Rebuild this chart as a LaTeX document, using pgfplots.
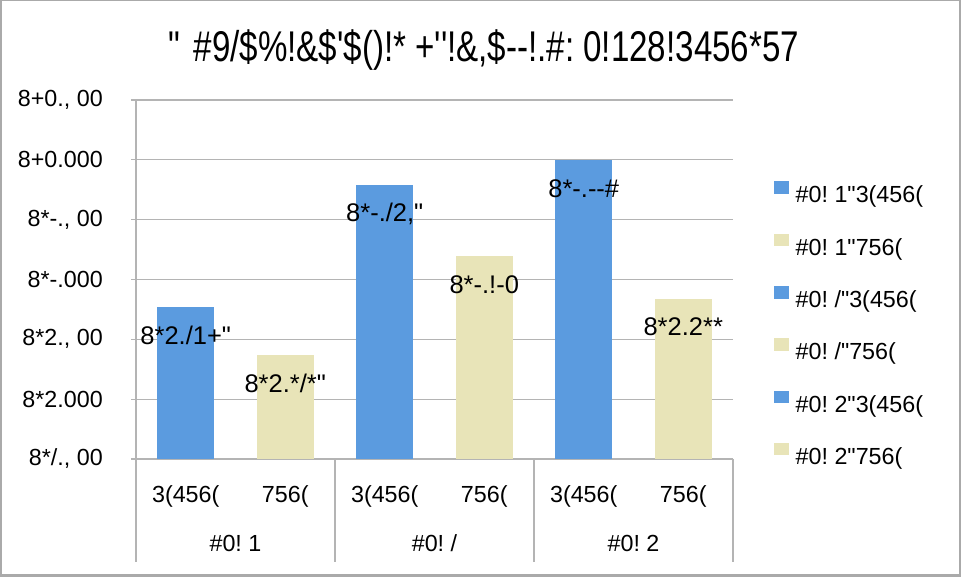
\documentclass[border=0pt]{standalone}
\usepackage{fontspec}
\setmainfont[Ligatures=TeXOff]{Liberation Sans}
\newfontfamily\titlefont[Ligatures=TeXOff,FakeStretch=0.77]{Liberation Sans}
\usepackage{pgfplots}
\pgfplotsset{compat=1.18}

\definecolor{barblue}{RGB}{91,155,223}
\definecolor{barbeige}{RGB}{232,228,184}
\definecolor{gridgray}{RGB}{180,180,180}
\definecolor{framegray}{RGB}{170,170,170}

\newcommand{\lbl}{\fontsize{23.3}{27}\selectfont}
\newcommand{\dlbl}{\fontsize{25.5}{30}\selectfont}

\begin{document}
\frenchspacing
\begin{tikzpicture}[x=1pt,y=1pt]
\useasboundingbox (-136,-118) rectangle (825,459);
\draw[framegray, line width=2.5pt] (-135,-116.5) rectangle (824,459.5);

\begin{axis}[
  at={(0,0)}, anchor=south west,
  scale only axis,
  width=597pt, height=359pt,
  clip=false,
  ybar, bar width=57pt, bar shift=0pt,
  xmin=-0.5, xmax=5.5,
  ymin=0, ymax=6,
  ytick={0,1,2,3,4,5,6},
  yticklabels={{8*/., 00},{8*2.000},{8*2., 00},{8*-.000},{8*-., 00},{8+0.000},{8+0., 00}},
  xtick={0,1,2,3,4,5},
  xticklabels={3(456(,756(,3(456(,756(,3(456(,756(},
  axis x line*=bottom, axis y line*=left,
  axis line style={draw=gridgray, line width=1.2pt, -},
  ymajorgrids, grid style={draw=gridgray, line width=1.2pt},
  y tick style={draw=gridgray, line width=1.2pt},
  x tick style={draw=none},
  major tick length=5pt,
  ytick align=outside, xtick align=inside,
  yticklabel style={font=\lbl, inner sep=0pt, anchor=east, xshift=-28pt},
  xticklabel style={font=\lbl, inner sep=0pt, anchor=base, yshift=-43.3pt},
  point meta=explicit symbolic,
  nodes near coords,
  nodes near coords style={font=\dlbl, anchor=center, yshift=-28.5pt, text=black, inner sep=0pt},
  legend style={at={(axis description cs:1,0.372)}, anchor=west, xshift=41pt,
    draw=none, fill=none, inner sep=0pt, font=\lbl, row sep=25.8pt,
    nodes={inner sep=0pt, text height=17pt, text depth=5pt},
    /tikz/every odd column/.style={column sep=7pt}},
  legend cell align=left,
  every axis plot post/.append style={legend image code/.code={\fill[##1] (0pt,3pt) rectangle (14.5pt,15.5pt);}},
]
\addplot[fill=barblue, draw=none] coordinates {(0,2.536) [8*2./1+"]};
\addlegendentry{\#0! 1"3(456(}
\addplot[fill=barbeige, draw=none] coordinates {(1,1.744) [8*2.*/*"]};
\addlegendentry{\#0! 1"756(}
\addplot[fill=barblue, draw=none] coordinates {(2,4.575) [8*-./2,"]};
\addlegendentry{\#0! /"3(456(}
\addplot[fill=barbeige, draw=none] coordinates {(3,3.385) [8*-.!-0]};
\addlegendentry{\#0! /"756(}
\addplot[fill=barblue, draw=none] coordinates {(4,5.0) [8*-.--\#]};
\addlegendentry{\#0! 2"3(456(}
\addplot[fill=barbeige, draw=none] coordinates {(5,2.68) [8*2.2**]};
\addlegendentry{\#0! 2"756(}

% group separators and group names
\draw[gridgray, line width=1.2pt] (axis cs:-0.5,0) -- ([yshift=-103pt]axis cs:-0.5,0);
\draw[gridgray, line width=1.2pt] (axis cs:1.5,0) -- ([yshift=-103pt]axis cs:1.5,0);
\draw[gridgray, line width=1.2pt] (axis cs:3.5,0) -- ([yshift=-103pt]axis cs:3.5,0);
\draw[gridgray, line width=1.2pt] (axis cs:5.5,0) -- ([yshift=-103pt]axis cs:5.5,0);
\node[font=\lbl, anchor=base, yshift=-93pt] at (axis cs:0.5,0) {\#0! 1};
\node[font=\lbl, anchor=base, yshift=-93pt] at (axis cs:2.5,0) {\#0! /};
\node[font=\lbl, anchor=base, yshift=-93pt] at (axis cs:4.5,0) {\#0! 2};
\end{axis}

\node[anchor=base, font=\titlefont\fontsize{43}{50}\selectfont] at (347.5,397)
  {"\hspace{14pt}\#9/\$\%!\&\$'\$()!* +''!\&,\$--!.\#: 0!128!3456*57};
\end{tikzpicture}
\end{document}
